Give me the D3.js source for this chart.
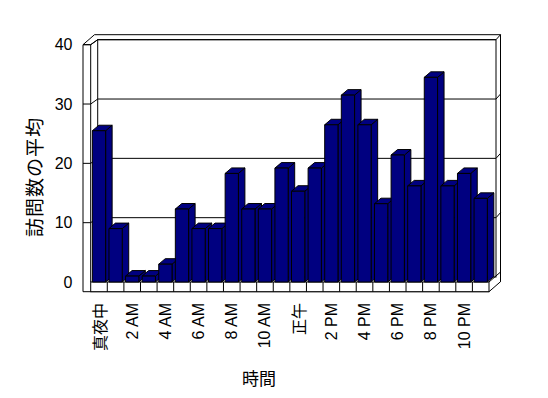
<!DOCTYPE html>
<html>
<head>
<meta charset="utf-8">
<script src="https://cdn.jsdelivr.net/npm/d3@7"></script>
<style>
  body { margin: 0; background: #fff; }
  text { fill: #000; }
</style>
</head>
<body>
<div id="chart"></div>
<script>
// hours of the day, average visits per hour
var hours = [0, 1, 2, 3, 4, 5, 6, 7, 8, 9, 10, 11, 12, 13, 14, 15, 16, 17, 18, 19, 20, 21, 22, 23];
var visits = [25.5, 9, 1, 1, 3, 12.3, 9, 9, 18.3, 12.3, 12.3, 19.2, 15.3, 19.2, 26.5, 31.5, 26.5, 13.2, 21.4, 16.2, 34.5, 16.2, 18.3, 14.1];
var hourLabels = ['真夜中', '', '2 AM', '', '4 AM', '', '6 AM', '', '8 AM', '', '10 AM', '',
                  '正午', '', '2 PM', '', '4 PM', '', '6 PM', '', '8 PM', '', '10 PM', ''];
var yTicks = [0, 10, 20, 30, 40];
var xTitle = '時間';
var yTitle = '訪問数の平均';

var w = 548, h = 398;
var latin = '"Liberation Sans", Arial, sans-serif';
var cjk = '"Noto Sans CJK JP", sans-serif';

// front plane of the 3d box
var left = 83, inner = 90.7, right = 489;
var floorTop = 282, floorBottom = 291.7;
var d1 = [7, -5];      // back wall front face
var d2 = [11.5, -10];  // back wall back face
var db = [6.5, -5.5];  // bar depth

var y = d3.scaleLinear().domain([0, 40]).range([floorTop, 44.7]);
var x = d3.scaleBand().domain(hours).range([inner, right]).paddingInner(0.2).paddingOuter(0.1);
var yTop = y(40);

var svg = d3.select('#chart').append('svg')
  .attr('width', w)
  .attr('height', h);

var frame = svg.append('g')
  .attr('fill', '#fff')
  .attr('stroke', '#000')
  .attr('stroke-width', 1);

var pts = function(a) { return a.map(function(p) { return p.join(','); }).join(' '); };

// outer silhouette
frame.append('polygon').attr('points', pts([
  [left, floorBottom], [left, yTop], [left + d2[0], yTop + d2[1]],
  [right + d2[0], yTop + d2[1]], [right + d2[0], floorBottom + d2[1]], [right, floorBottom]
]));

// back wall front face
frame.append('rect')
  .attr('x', inner + d1[0])
  .attr('y', yTop + d1[1])
  .attr('width', right - inner)
  .attr('height', floorTop - yTop);

// left wall
frame.append('polyline').attr('fill', 'none').attr('points', pts([
  [inner + d1[0], yTop + d1[1]], [inner, yTop], [inner, floorTop]
]));
frame.append('line')
  .attr('x1', left).attr('y1', yTop).attr('x2', inner).attr('y2', yTop);

// right edge of the walls
frame.append('line')
  .attr('x1', right + d2[0]).attr('y1', yTop + d2[1])
  .attr('x2', right + d2[0]).attr('y2', floorBottom + d2[1]);
frame.append('line')
  .attr('x1', right).attr('y1', floorTop)
  .attr('x2', right + d2[0]).attr('y2', floorTop + d2[1]);

// gridlines on the walls
frame.append('g').selectAll('polyline')
  .data(yTicks.slice(1))
  .enter().append('polyline')
  .attr('fill', 'none')
  .attr('points', function(v) {
    var yy = y(v);
    return pts([[left, yy], [inner, yy], [inner + d1[0], yy + d1[1]],
      [right + d1[0], yy + d1[1]], [right + d2[0], yy + d2[1]]]);
  });

// floor front face with category separators
frame.append('rect')
  .attr('x', inner)
  .attr('y', floorTop)
  .attr('width', right - inner)
  .attr('height', floorBottom - floorTop);
frame.append('g').selectAll('line')
  .data(hours.slice(1))
  .enter().append('line')
  .attr('x1', function(d) { return x(d) - x.step() * x.paddingInner() / 2; })
  .attr('x2', function(d) { return x(d) - x.step() * x.paddingInner() / 2; })
  .attr('y1', floorTop)
  .attr('y2', floorBottom);

// bars, left to right so the next bar hides the side face
var bars = svg.append('g')
  .attr('fill', '#000080')
  .attr('stroke', '#000')
  .attr('stroke-width', 1)
  .attr('stroke-linejoin', 'round');

var bw = x.bandwidth();
hours.forEach(function(hr, i) {
  var x0 = x(hr), x1 = x0 + bw, yt = y(visits[i]);
  var g = bars.append('g');
  g.append('polygon').attr('points', pts([
    [x1, yt], [x1 + db[0], yt + db[1]], [x1 + db[0], floorTop + db[1]], [x1, floorTop]
  ]));
  g.append('polygon').attr('points', pts([
    [x0, yt], [x1, yt], [x1 + db[0], yt + db[1]], [x0 + db[0], yt + db[1]]
  ]));
  g.append('rect')
    .attr('x', x0).attr('y', yt)
    .attr('width', bw).attr('height', floorTop - yt);
});

// y tick labels
svg.append('g').selectAll('text')
  .data(yTicks)
  .enter().append('text')
  .attr('x', 72.5)
  .attr('y', function(d) { return y(d); })
  .attr('text-anchor', 'end')
  .attr('dominant-baseline', 'central')
  .style('font-family', latin)
  .style('font-size', '16px')
  .text(function(d) { return d; });

// x labels, rotated
svg.append('g').selectAll('text')
  .data(hours.filter(function(d, i) { return hourLabels[i] !== ''; }))
  .enter().append('text')
  .attr('transform', function(d) {
    return 'translate(' + (x(d) + bw / 2) + ',303) rotate(-90)';
  })
  .attr('text-anchor', 'end')
  .attr('dominant-baseline', 'central')
  .style('font-family', function(d) { return /[AP]M/.test(hourLabels[d]) ? latin : cjk; })
  .style('font-size', '16px')
  .text(function(d) { return hourLabels[d]; });

// axis titles
svg.append('text')
  .attr('x', 259)
  .attr('y', 377)
  .attr('text-anchor', 'middle')
  .attr('dominant-baseline', 'central')
  .style('font-family', cjk)
  .style('font-size', '17px')
  .text(xTitle);

svg.append('text')
  .attr('transform', 'translate(33,177) rotate(-90)')
  .attr('text-anchor', 'middle')
  .attr('dominant-baseline', 'central')
  .style('font-family', cjk)
  .style('font-size', '19px')
  .style('letter-spacing', '1px')
  .text(yTitle);
</script>
</body>
</html>
